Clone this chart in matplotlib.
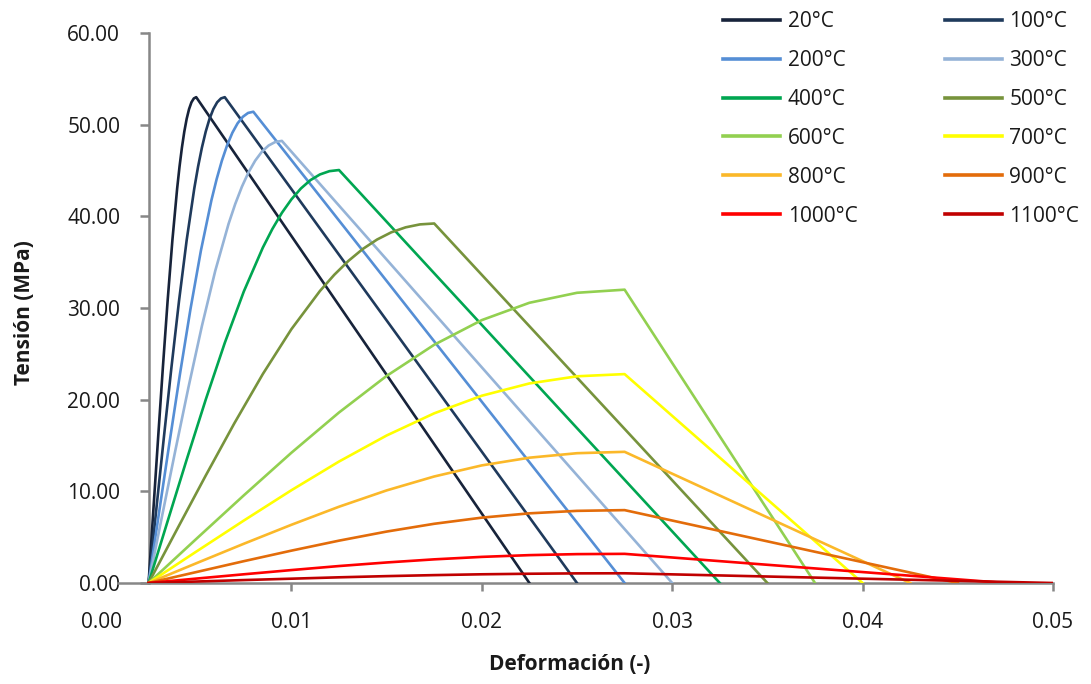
import matplotlib
matplotlib.use("Agg")
import matplotlib.pyplot as plt
from matplotlib.ticker import FormatStrFormatter

# Stress-strain curves of concrete at elevated temperature
labels = ["20°C", "100°C", "200°C", "300°C", "400°C", "500°C",
          "600°C", "700°C", "800°C", "900°C", "1000°C", "1100°C"]
colors = ["#17233a", "#1f3a5c", "#558ed5", "#95b3d7", "#00a651", "#77933c",
          "#92d050", "#ffff00", "#fbb829", "#e36c0a", "#ff0000", "#c00000"]

strain_20 = [0.0025, 0.00275, 0.0030, 0.00325, 0.0035, 0.00375, 0.0040, 0.004125,
             0.00425, 0.004375, 0.0045, 0.004625, 0.00475, 0.004875, 0.0050, 0.0225]
stress_20 = [0.0, 7.95, 15.84, 23.53, 30.81, 37.41, 43.05, 45.44,
             47.50, 49.24, 50.64, 51.70, 52.44, 52.86, 53.00, 0.0]

strain_100 = [0.0025, 0.0029, 0.0033, 0.0037, 0.0041, 0.0045, 0.0049, 0.0051,
              0.0053, 0.0055, 0.0057, 0.0059, 0.0061, 0.0063, 0.0065, 0.0250]
stress_100 = [0.0, 7.95, 15.84, 23.53, 30.81, 37.41, 43.05, 45.44,
              47.50, 49.24, 50.64, 51.70, 52.44, 52.86, 53.00, 0.0]

strain_200 = [0.0025, 0.00305, 0.0036, 0.00415, 0.0047, 0.00525, 0.0058, 0.006075,
              0.00635, 0.006625, 0.0069, 0.007175, 0.00745, 0.007725, 0.0080, 0.0275]
stress_200 = [0.0, 7.71, 15.36, 22.83, 29.89, 36.29, 41.76, 44.07,
              46.08, 47.76, 49.12, 50.15, 50.86, 51.28, 51.41, 0.0]

strain_300 = [0.0025, 0.0032, 0.0039, 0.0046, 0.0053, 0.0060, 0.0067, 0.00705,
              0.0074, 0.00775, 0.0081, 0.00845, 0.0088, 0.00915, 0.0095, 0.0300]
stress_300 = [0.0, 7.23, 14.41, 21.41, 28.04, 34.05, 39.18, 41.35,
              43.23, 44.81, 46.08, 47.05, 47.72, 48.11, 48.23, 0.0]

strain_400 = [0.0025, 0.0035, 0.0045, 0.0055, 0.0065, 0.0075, 0.0085, 0.0090,
              0.0095, 0.0100, 0.0105, 0.0110, 0.0115, 0.0120, 0.0125, 0.0325]
stress_400 = [0.0, 6.75, 13.46, 20.00, 26.19, 31.80, 36.59, 38.62,
              40.38, 41.85, 43.04, 43.95, 44.57, 44.93, 45.05, 0.0]

strain_500 = [0.0025, 0.0040, 0.0055, 0.0070, 0.0085, 0.0100, 0.0115, 0.01225,
              0.0130, 0.01375, 0.0145, 0.01525, 0.0160, 0.01675, 0.0175, 0.0350]
stress_500 = [0.0, 5.88, 11.72, 17.41, 22.80, 27.69, 31.86, 33.62,
              35.15, 36.44, 37.47, 38.26, 38.80, 39.12, 39.22, 0.0]

strain_600 = [0.0025, 0.0050, 0.0075, 0.0100, 0.0125, 0.0150, 0.0175, 0.0200, 0.0225, 0.0250, 0.0275, 0.0375]
stress_600 = [0.0, 4.80, 9.56, 14.21, 18.60, 22.59, 25.99, 28.68, 30.57, 31.66, 32.00, 0.0]

strain_700 = [0.0025, 0.0050, 0.0075, 0.0100, 0.0125, 0.0150, 0.0175, 0.0200, 0.0225, 0.0250, 0.0275, 0.0400]
stress_700 = [0.0, 3.42, 6.81, 10.12, 13.25, 16.09, 18.51, 20.43, 21.77, 22.55, 22.79, 0.0]

strain_800 = [0.0025, 0.0050, 0.0075, 0.0100, 0.0125, 0.0150, 0.0175, 0.0200, 0.0225, 0.0250, 0.0275, 0.0425]
stress_800 = [0.0, 2.15, 4.28, 6.35, 8.32, 10.10, 11.62, 12.83, 13.67, 14.16, 14.31, 0.0]

strain_900 = [0.0025, 0.0050, 0.0075, 0.0100, 0.0125, 0.0150, 0.0175, 0.0200, 0.0225, 0.0250, 0.0275, 0.0450]
stress_900 = [0.0, 1.19, 2.38, 3.53, 4.62, 5.61, 6.46, 7.13, 7.60, 7.87, 7.95, 0.0]

strain_1000 = [0.0025, 0.0050, 0.0075, 0.0100, 0.0125, 0.0150, 0.0175, 0.0200, 0.0225, 0.0250, 0.0275, 0.0475]
stress_1000 = [0.0, 0.48, 0.95, 1.41, 1.85, 2.24, 2.58, 2.85, 3.04, 3.15, 3.18, 0.0]

strain_1100 = [0.0025, 0.0050, 0.0075, 0.0100, 0.0125, 0.0150, 0.0175, 0.0200, 0.0225, 0.0250, 0.0275, 0.0500]
stress_1100 = [0.0, 0.16, 0.32, 0.47, 0.62, 0.75, 0.86, 0.95, 1.01, 1.05, 1.06, 0.0]

x_ticks = [0.00, 0.01, 0.02, 0.03, 0.04, 0.05]
y_ticks = [0, 10, 20, 30, 40, 50, 60]

strains = [strain_20, strain_100, strain_200, strain_300, strain_400, strain_500,
           strain_600, strain_700, strain_800, strain_900, strain_1000, strain_1100]
stresses = [stress_20, stress_100, stress_200, stress_300, stress_400, stress_500,
            stress_600, stress_700, stress_800, stress_900, stress_1000, stress_1100]

plt.rcParams["font.family"] = ["Open Sans", "DejaVu Sans"]

W, H = 1091, 684
fig = plt.figure(figsize=(W / 100, H / 100), dpi=100)
ax = fig.add_axes([101 / W, 1 - 583 / H, 952 / W, 550 / H])

handles = []
for x, y, lab, c in zip(strains, stresses, labels, colors):
    ln, = ax.plot(x, y, color=c, lw=1.9, label=lab, solid_joinstyle="round", zorder=3)
    handles.append(ln)

ax.set_xlim(0, 0.05)
ax.set_ylim(0, 60)
ax.set_xticks(x_ticks)
ax.set_yticks(y_ticks)
ax.xaxis.set_major_formatter(FormatStrFormatter("%.2f"))
ax.yaxis.set_major_formatter(FormatStrFormatter("%.2f"))

axis_grey = "#878787"
for s in ("top", "right"):
    ax.spines[s].set_visible(False)
ax.spines["left"].set_position(("data", 0.0025))
ax.spines["left"].set_color(axis_grey)
ax.spines["left"].set_linewidth(1.8)
ax.spines["bottom"].set_color(axis_grey)
ax.spines["bottom"].set_linewidth(1.8)
ax.spines["bottom"].set_bounds(0.0009, 0.05)
ax.spines["bottom"].set_zorder(2)

ax.tick_params(axis="y", direction="out", length=6.5, width=1.8, color=axis_grey,
               pad=14, labelsize=15, labelcolor="#1a1a1a")
ax.tick_params(axis="x", direction="out", length=6, width=1.8, color=axis_grey,
               pad=15, labelsize=15, labelcolor="#1a1a1a")
ax.xaxis.get_major_ticks()[0].tick1line.set_visible(False)

fig.text(570 / W, 1 - 664 / H, "Deformación (-)", ha="center", va="center",
         fontsize=15, fontweight="bold", color="#1a1a1a")
fig.text(24 / W, 1 - 313 / H, "Tensión (MPa)", ha="center", va="center",
         rotation=90, fontsize=15, fontweight="bold", color="#1a1a1a")

# two-column legend filled row by row
order = [0, 2, 4, 6, 8, 10, 1, 3, 5, 7, 9, 11]
leg = fig.legend([handles[i] for i in order], [labels[i] for i in order],
                 loc="upper left", bbox_to_anchor=(723 / W, 1 - 11 / H), ncol=2,
                 frameon=False, fontsize=15, handlelength=2.75, handletextpad=0.35,
                 labelspacing=0.86, columnspacing=4.2, borderpad=0, borderaxespad=0)
for line in leg.get_lines():
    line.set_linewidth(2.6)
for t in leg.get_texts():
    t.set_color("#1a1a1a")

fig.savefig("out.png", dpi=100)
